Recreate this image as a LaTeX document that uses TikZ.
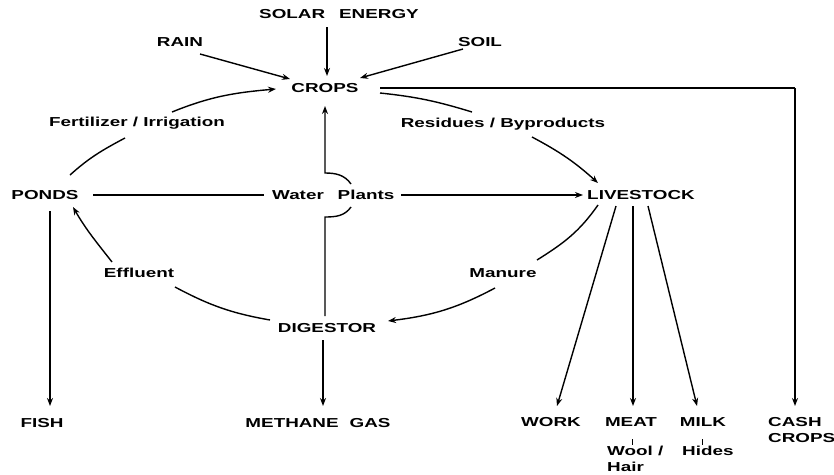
\documentclass[tikz,border=0pt]{standalone}
\usepackage{fontspec}
\newfontfamily\lf[FakeStretch=1.45]{Liberation Sans}
\usetikzlibrary{arrows.meta}
\begin{document}
\begin{tikzpicture}[x=1pt,y=1pt,
  lbl/.style={font=\lf\bfseries\fontsize{13}{16}\selectfont, inner sep=1pt},
  wire/.style={line width=1.4pt},
  arr/.style={wire, -{Stealth[length=8pt,width=6pt]}}]
\useasboundingbox (0,0) rectangle (834,-474);
% nodes
\node[lbl] (solar) at (339,-14) {SOLAR\hspace{14pt}ENERGY};
\node[lbl] (rain) at (180,-42) {RAIN};
\node[lbl] (soil) at (480,-42) {SOIL};
\node[lbl] (crops) at (325,-88) {CROPS};
\node[lbl] (ponds) at (45,-195) {PONDS};
\node[lbl] (water) at (298,-195) {Water};
\node[lbl] (plants) at (366,-195) {Plants};
\node[lbl] (live) at (641,-195) {LIVESTOCK};
\node[lbl] (dig) at (327,-328) {DIGESTOR};
\node[lbl] (fish) at (42,-423) {FISH};
\node[lbl] (meth) at (318,-423) {METHANE\hspace{11pt}GAS};
\node[lbl] (work) at (551,-422) {WORK};
\node[lbl] (meat) at (631,-422) {MEAT};
\node[lbl] (milk) at (703,-422) {MILK};
\node[lbl, align=left, anchor=west] (cash) at (767,-430) {CASH\\CROPS};
\node[lbl, align=left, anchor=north west] (wool) at (606,-445) {Wool /\\Hair};
\node[lbl, anchor=north west] (hides) at (681,-445) {Hides};
% labels on curves
\node[lbl] (fert) at (137,-123) {Fertilizer / Irrigation};
\node[lbl] (resid) at (503,-124) {Residues / Byproducts};
\node[lbl] (eff) at (139,-273) {Effluent};
\node[lbl] (man) at (503,-273) {Manure};
% coordinates
\coordinate (solarS) at (327,-27);
\coordinate (cropsN) at (327,-76);
\coordinate (rainE) at (200,-54);
\coordinate (cropsNW) at (290,-79);
\coordinate (soilW) at (463,-49);
\coordinate (cropsNE) at (360,-78);
\coordinate (cropsE) at (380,-88);
\coordinate (cashC) at (795,-88);
\coordinate (cashN) at (795,-406);
\coordinate (fertA) at (70,-175);
\coordinate (fertB) at (125,-138);
\coordinate (fertC) at (172,-112);
\coordinate (fertD) at (276,-89);
\coordinate (resA) at (380,-93);
\coordinate (resB) at (472,-112);
\coordinate (resC) at (532,-137);
\coordinate (resD) at (598,-183);
\coordinate (manA) at (598,-205);
\coordinate (manB) at (537,-260);
\coordinate (manC) at (495,-288);
\coordinate (manD) at (388,-321);
\coordinate (effA) at (270,-320);
\coordinate (effB) at (175,-287);
\coordinate (effC) at (112,-262);
\coordinate (effD) at (73,-207);
\coordinate (pondsE) at (93,-195);
\coordinate (waterW) at (264,-195);
\coordinate (plantsE) at (401,-195);
\coordinate (liveW) at (583,-195);
\coordinate (vBot) at (325,-316);
\coordinate (vB1) at (325,-217);
\coordinate (vB2) at (351,-207);
\coordinate (vT2) at (351,-184);
\coordinate (vT1) at (325,-173);
\coordinate (cropsS) at (325,-106);
\coordinate (pondsS) at (50,-211);
\coordinate (fishN) at (50,-406);
\coordinate (digS) at (323,-340);
\coordinate (methN) at (323,-406);
\coordinate (liveA) at (616,-206);
\coordinate (workN) at (557,-406);
\coordinate (liveB) at (633,-206);
\coordinate (meatN) at (633,-406);
\coordinate (liveC) at (648,-206);
\coordinate (milkN) at (697,-406);
\coordinate (tick1a) at (632,-439);
\coordinate (tick1b) at (632,-445);
\coordinate (tick2a) at (702,-439);
\coordinate (tick2b) at (702,-445);
% connectors
\draw[arr] (solarS) -- (cropsN);
\draw[arr] (rainE) -- (cropsNW);
\draw[arr] (soilW) -- (cropsNE);
\draw[wire] (cropsE) -- (cashC);
\draw[arr] (cashC) -- (cashN);
\draw[wire] (fertA) to[out=42,in=-152] (fertB);
\draw[arr] (fertC) to[out=22,in=185] (fertD);
\draw[wire] (resA) to[out=-6,in=163] (resB);
\draw[arr] (resC) to[out=-28,in=138] (resD);
\draw[wire] (manA) to[out=-125,in=32] (manB);
\draw[arr] (manC) to[out=-152,in=7] (manD);
\draw[wire] (effA) to[out=170,in=-28] (effB);
\draw[arr] (effC) to[out=128,in=-60] (effD);
\draw[wire] (pondsE) -- (waterW);
\draw[arr] (plantsE) -- (liveW);
\draw[wire] (vBot) -- (vB1) to[out=0,in=-125] (vB2);
\draw[arr] (vT2) to[out=125,in=0] (vT1) -- (cropsS);
\draw[arr] (pondsS) -- (fishN);
\draw[arr] (digS) -- (methN);
\draw[arr] (liveA) -- (workN);
\draw[arr] (liveB) -- (meatN);
\draw[arr] (liveC) -- (milkN);
\draw[line width=1pt] (tick1a) -- (tick1b);
\draw[line width=1pt] (tick2a) -- (tick2b);
\end{tikzpicture}
\end{document}
